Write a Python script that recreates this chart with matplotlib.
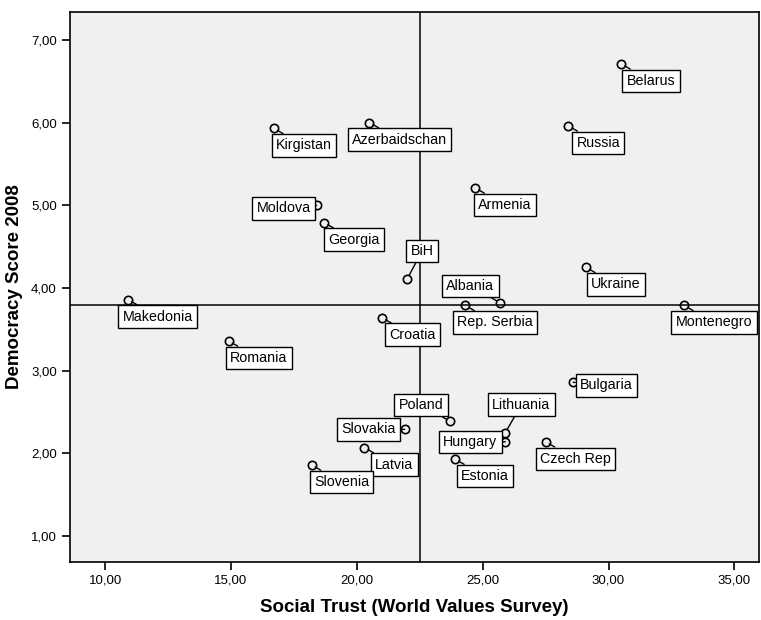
import matplotlib.pyplot as plt
from matplotlib.ticker import FuncFormatter

# Values
countries = ['Belarus', 'Russia', 'Azerbaidschan', 'Kirgistan', 'Moldova', 'Georgia',
             'Armenia', 'BiH', 'Ukraine', 'Albania', 'Rep. Serbia', 'Montenegro',
             'Makedonia', 'Croatia', 'Romania', 'Bulgaria', 'Poland', 'Slovakia',
             'Latvia', 'Slovenia', 'Lithuania', 'Hungary', 'Estonia', 'Czech Rep']
social_trust = [30.5, 28.4, 20.5, 16.7, 18.4, 18.7,
                24.7, 22.0, 29.1, 25.7, 24.3, 33.0,
                10.9, 21.0, 14.9, 28.6, 23.7, 21.9,
                20.3, 18.2, 25.9, 25.9, 23.9, 27.5]
democracy = [6.71, 5.96, 6.00, 5.93, 5.00, 4.79,
             5.21, 4.11, 4.25, 3.82, 3.79, 3.79,
             3.86, 3.64, 3.36, 2.86, 2.39, 2.29,
             2.07, 1.86, 2.25, 2.14, 1.93, 2.14]
x_ticks = [10, 15, 20, 25, 30, 35]
y_ticks = [1, 2, 3, 4, 5, 6, 7]
x_ref = 22.5
y_ref = 3.8

# label placement (pixels relative to point, y up)
label_offsets = {
    'Moldova': (-33, -3), 'Bulgaria': (33, -3), 'Slovakia': (-36, 0),
    'Hungary': (-35, 0), 'BiH': (15, 28), 'Lithuania': (16, 28),
    'Albania': (-30, 17), 'Poland': (-29, 16),
}
default_offset = (30, -17)

plt.rcParams['font.family'] = ['Liberation Sans', 'DejaVu Sans']

fig = plt.figure(figsize=(7.61, 6.2), dpi=100)
ax = fig.add_axes([0.092, 0.094, 0.906, 0.887])
ax.set_facecolor('#f0f0f0')

ax.axvline(x_ref, color='black', lw=1.1, zorder=1)
ax.axhline(y_ref, color='black', lw=1.1, zorder=1)

ax.plot(social_trust, democracy, 'o', mfc='none', mec='black', ms=6, mew=1.2, zorder=3)

for name, x, y in zip(countries, social_trust, democracy):
    dx, dy = label_offsets.get(name, default_offset)
    ax.annotate(name, (x, y), xytext=(dx, dy), textcoords='offset pixels',
                ha='center', va='center', fontsize=10.3, zorder=4,
                bbox=dict(boxstyle='square,pad=0.3', fc='white', ec='black', lw=1),
                arrowprops=dict(arrowstyle='-', color='black', lw=1,
                                shrinkA=0, shrinkB=3))

ax.set_xlim(8.6, 36.0)
ax.set_ylim(0.69, 7.34)
ax.set_xticks(x_ticks)
ax.set_yticks(y_ticks)
fmt = FuncFormatter(lambda v, p: '{:.2f}'.format(v).replace('.', ','))
ax.xaxis.set_major_formatter(fmt)
ax.yaxis.set_major_formatter(fmt)
ax.tick_params(direction='out', length=6, width=1.2, labelsize=9.5, colors='black')
for s in ax.spines.values():
    s.set_linewidth(1.2)
    s.set_color('black')

ax.set_xlabel('Social Trust (World Values Survey)', fontsize=13.5, fontweight='bold',
              labelpad=9)
ax.set_ylabel('Democracy Score 2008', fontsize=13.5, fontweight='bold',
              labelpad=6)

fig.savefig('out.png', dpi=100)
